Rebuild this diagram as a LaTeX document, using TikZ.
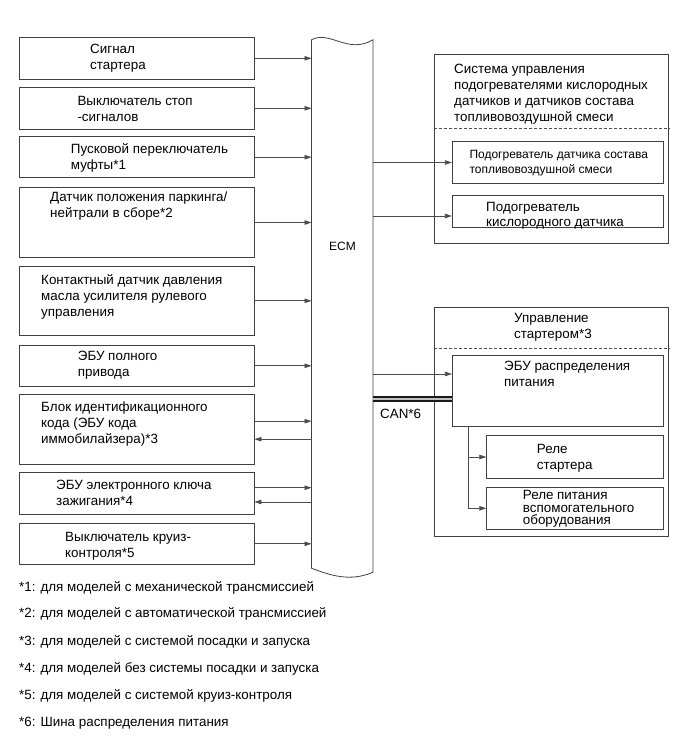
\documentclass[tikz,border=0pt]{standalone}
\usepackage{fontspec}
\setmainfont{Liberation Sans}
\usetikzlibrary{arrows.meta,positioning}
\newcommand{\tightfont}{\fontsize{13.4}{12.3}\selectfont\lineskiplimit=-20pt\relax}

\begin{document}
\begin{tikzpicture}[x=1pt, y=-1pt,
  box/.style={draw=black!75, line width=0.8pt, minimum width=235pt, inner sep=0pt},
  grp/.style={draw=black!75, line width=0.8pt, minimum width=234.3pt, inner sep=0pt},
  sub/.style={draw=black!75, line width=0.8pt, inner sep=0pt},
  arr/.style={-{Triangle[length=7pt,width=4.5pt]}, black!70, line width=0.7pt},
  can/.style={black!90, line width=1.4pt, double=black!25, double distance=2.6pt},
  dashline/.style={black!70, line width=0.7pt, dash pattern=on 3pt off 2pt},
  lab/.style={font=\fontsize{13.4}{16}\selectfont, align=left, anchor=north west, inner sep=0pt},
  note/.style={font=\fontsize{13.4}{15}\selectfont, anchor=west, inner sep=0pt}]
\useasboundingbox (0,0) rectangle (690,756);

% inputs
\node[box, minimum height=42pt]   (sig)  at (136.5,58.3)  {};
\node[box, minimum height=41.3pt] (stp)  at (136.5,108.3) {};
\node[box, minimum height=41pt]   (clu)  at (136.5,157.2) {};
\node[box, minimum height=69.6pt] (pnp)  at (136.5,222.5) {};
\node[box, minimum height=69.7pt] (pst)  at (136.5,300.8) {};
\node[box, minimum height=41.7pt] (awd)  at (136.5,365.8) {};
\node[box, minimum height=69.7pt] (imm)  at (136.5,429.2) {};
\node[box, minimum height=41.3pt] (key)  at (136.5,493.3) {};
\node[box, minimum height=41pt]   (crs)  at (136.5,543.8) {};

\node[lab] at (90,43.5)   {Сигнал\\стартера};
\node[lab] at (77.3,96)   {Выключатель стоп\\-сигналов};
\node[lab] at (70.7,143.5){Пусковой переключатель\\муфты*1};
\node[lab] at (50,192)    {Датчик положения паркинга/\\нейтрали в сборе*2};
\node[lab] at (41,274.5)  {Контактный датчик давления\\масла усилителя рулевого\\управления};
\node[lab] at (77.7,350.5){ЭБУ полного\\привода};
\node[lab] at (41,402)    {Блок идентификационного\\кода (ЭБУ кода\\иммобилайзера)*3};
\node[lab] at (56,479.5)  {ЭБУ электронного ключа\\зажигания*4};
\node[lab] at (65,532)    {Выключатель круиз-\\контроля*5};

% ECM
\node[minimum width=61pt, minimum height=528pt, inner sep=0pt] (ecm) at (342.2,304) {};
\draw[black!75, line width=0.8pt] (ecm.north west)
  .. controls +(18,-10) and +(-25,15) .. (ecm.north east)
  -- ([yshift=-4pt]ecm.south east)
  .. controls +(-22.7,10) and +(18.3,7) .. (ecm.south west) -- cycle;
\node[font=\fontsize{12}{14}\selectfont] (ecmlab) at (342.5,246.5) {ECM};

\draw[arr] (sig.east) -- (sig.east -| ecm.west);
\draw[arr] (stp.east) -- (stp.east -| ecm.west);
\draw[arr] (clu.east) -- (clu.east -| ecm.west);
\draw[arr] (pnp.east) -- (pnp.east -| ecm.west);
\draw[arr] (pst.east) -- (pst.east -| ecm.west);
\draw[arr] (awd.east) -- (awd.east -| ecm.west);
\draw[arr] ([yshift=8pt]imm.east) -- ([yshift=8pt]imm.east -| ecm.west);
\draw[arr] ([yshift=-10pt]imm.east -| ecm.west) -- ([yshift=-10pt]imm.east);
\draw[arr] ([yshift=5.6pt]key.east) -- ([yshift=5.6pt]key.east -| ecm.west);
\draw[arr] ([yshift=-8.7pt]key.east -| ecm.west) -- ([yshift=-8.7pt]key.east);
\draw[arr] (crs.east) -- (crs.east -| ecm.west);

% heater control
\node[grp, minimum height=189.3pt] (htr) at (551.2,148.7) {};
\draw[dashline] ([yshift=-74.3pt]htr.north west) -- ([yshift=-74.3pt]htr.north east);
\node[lab] at (454,63.5) {Система управления\\подогревателями кислородных\\датчиков и датчиков состава\\топливовоздушной смеси};
\node[sub, minimum width=211pt, minimum height=41.6pt] (afs) at (557.8,162.5) {};
\node[sub, minimum width=211pt, minimum height=31.6pt] (o2s) at (557.8,211.5) {};
\node[lab, font=\fontsize{12}{14.3}\selectfont] at (469.3,150.5) {Подогреватель датчика состава\\топливовоздушной смеси};
\node[lab, font=\fontsize{13.4}{15}\selectfont] at (486,202.5) {Подогреватель\\кислородного датчика};
\draw[arr] (afs.west -| ecm.east) -- (afs.west);
\draw[arr] ([yshift=-4.5pt]o2s.west -| ecm.east) -- ([yshift=-4.5pt]o2s.west);

% starter control
\node[grp, minimum height=229.4pt] (stc) at (551.2,422) {};
\draw[dashline] ([yshift=-41.7pt]stc.north west) -- ([yshift=-41.7pt]stc.north east);
\node[lab] at (514,313.5) {Управление\\стартером*3};
\node[sub, minimum width=211pt, minimum height=71pt] (pdu) at (557.8,390.5) {};
\node[lab] at (504,360.5) {ЭБУ распределения\\питания};
\node[sub, minimum width=176.6pt, minimum height=42.6pt] (rst) at (575,457) {};
\node[sub, minimum width=176.6pt, minimum height=42pt] (racc) at (575,508.3) {};
\node[lab] at (536.7,444.5) {Реле\\стартера};
\node[lab, font=\tightfont] at (522.7,490.5) {Реле питания\\вспомогательного\\оборудования};
\draw[arr] ([yshift=16.5pt]pdu.west -| ecm.east) -- ([yshift=16.5pt]pdu.west);
\draw[can] ([yshift=-8.5pt]pdu.west -| ecm.east) -- ([yshift=-8.5pt]pdu.west);
\node[lab] (canlab) at (380,408.5) {CAN*6};
\draw[arr] ([xshift=16pt]pdu.south west) |- (rst.west);
\draw[arr] ([xshift=16pt]pdu.south west) |- (racc.west);

% notes
\node[note] (n1) at (19,588.3) {*1: для моделей с механической трансмиссией};
\node[note] (n2) at (19,614)   {*2: для моделей с автоматической трансмиссией};
\node[note] (n3) at (19,641.5) {*3: для моделей с системой посадки и запуска};
\node[note] (n4) at (19,668.5) {*4: для моделей без системы посадки и запуска};
\node[note] (n5) at (19,696)   {*5: для моделей с системой круиз-контроля};
\node[note] (n6) at (19,723.5) {*6: Шина распределения питания};
\end{tikzpicture}
\end{document}
